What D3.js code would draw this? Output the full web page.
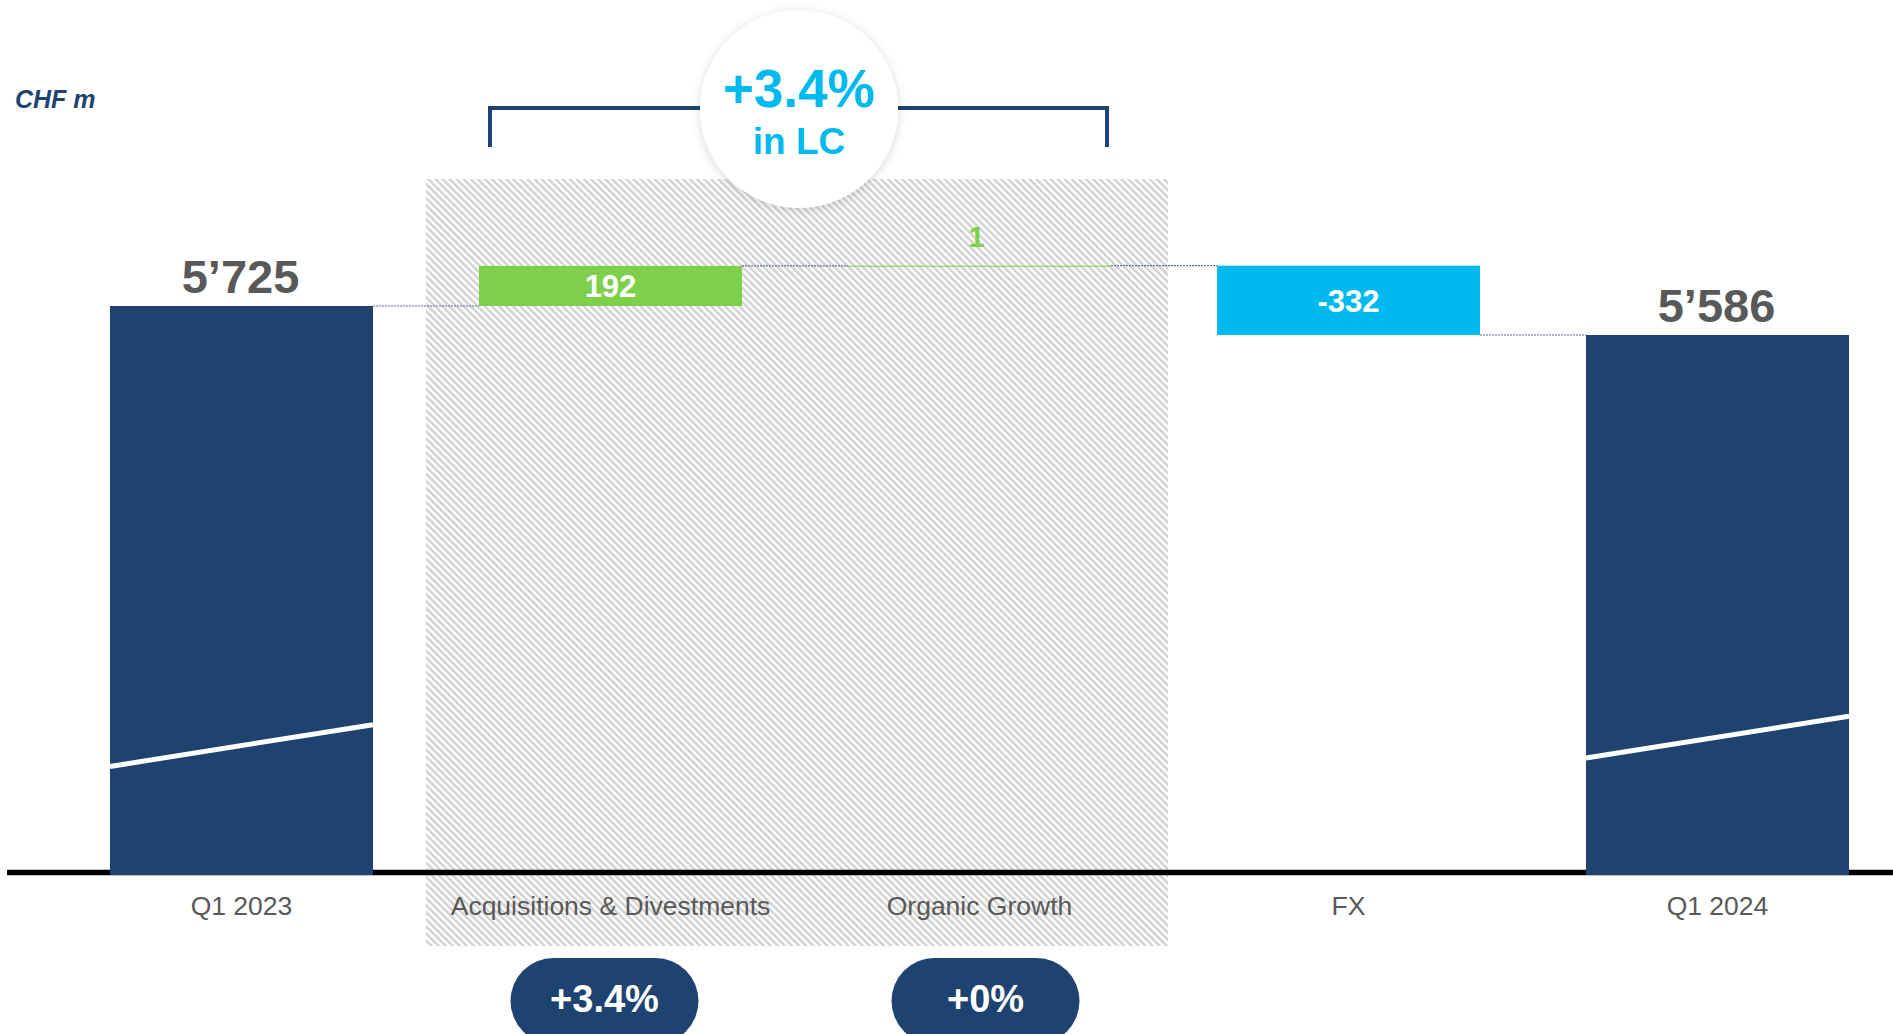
<!DOCTYPE html>
<html>
<head>
<meta charset="utf-8">
<script src="https://cdn.jsdelivr.net/npm/d3@7"></script>
<style>
  html, body { margin: 0; padding: 0; background: #ffffff; }
  svg { display: block; }
  text { font-family: "Liberation Sans", Arial, Helvetica, sans-serif; }
</style>
</head>
<body>
<svg id="chart" width="1893" height="1034"></svg>
<script>
// ---------- data ----------
const categories = ["Q1 2023", "Acquisitions & Divestments", "Organic Growth", "FX", "Q1 2024"];
const values     = [5725, 192, 1, -332, 5586];
const kinds      = ["total", "delta", "delta", "delta", "total"];
const valueLabels = ["5\u2019725", "192", "1", "-332", "5\u2019586"];
const breakFrom  = [3520, null, null, null, 3560];   // axis-break mark (left edge value)
const breakTo    = [3720, null, null, null, 3760];   // axis-break mark (right edge value)
const pillCategories = ["Acquisitions & Divestments", "Organic Growth"];
const pillLabels     = ["+3.4%", "+0%"];
const bubbleLines    = ["+3.4%", "in LC"];
const unitLabel      = "CHF m";
const yDomain        = [3000, 6000];

// ---------- layout ----------
const W = 1893, H = 1034;
const baseY = 875;
const C = {
  navy: "#1f4371", green: "#7ed04b", cyan: "#00b9ef", gray: "#595959", hatch: "#d2d2d2"
};

const svg = d3.select("#chart");
const defs = svg.append("defs");

const pat = defs.append("pattern")
  .attr("id", "hatch").attr("patternUnits", "userSpaceOnUse")
  .attr("width", 5).attr("height", 5)
  .attr("patternTransform", "rotate(-45)");
pat.append("rect").attr("width", 5).attr("height", 5).attr("fill", "#ffffff");
pat.append("rect").attr("width", 2.5).attr("height", 5).attr("fill", C.hatch);

const flt = defs.append("filter").attr("id", "shadow")
  .attr("x", "-30%").attr("y", "-30%").attr("width", "160%").attr("height", "160%");
flt.append("feDropShadow").attr("dx", 0).attr("dy", 2).attr("stdDeviation", 5)
  .attr("flood-color", "#000").attr("flood-opacity", 0.16);

const x = d3.scaleBand().domain(categories).range([57, 1902]).paddingInner(0.2873).paddingOuter(0.14365);
const bw = x.bandwidth();
const y = d3.scaleLinear().domain(yDomain).range([baseY, baseY - (yDomain[1] - yDomain[0]) * 0.20881]);

// compute waterfall
let run = 0;
const bars = categories.map((c, i) => {
  let lo, hi, end;
  if (kinds[i] === "total") { lo = yDomain[0]; hi = values[i]; end = values[i]; run = values[i]; }
  else { const s = run; const e = run + values[i]; lo = Math.min(s, e); hi = Math.max(s, e); end = e; run = e; }
  return { c, i, v: values[i], kind: kinds[i], lo, hi, end, label: valueLabels[i] };
});

// hatched highlight region behind A&D + Organic Growth
const half = (x.step() - bw) / 2;
const hx0 = x(pillCategories[0]) - half, hx1 = x(pillCategories[1]) + bw + half + 4;
svg.append("rect").attr("x", hx0).attr("y", 179).attr("width", hx1 - hx0).attr("height", 946 - 179)
  .attr("fill", "url(#hatch)");

// baseline
svg.append("line").attr("x1", 7).attr("x2", W).attr("y1", baseY - 2.5).attr("y2", baseY - 2.5)
  .attr("stroke", "#000").attr("stroke-width", 5.5);

// connectors
for (let i = 0; i < bars.length - 1; i++) {
  const b = bars[i], n = bars[i + 1];
  svg.append("line")
    .attr("x1", x(b.c) + bw).attr("x2", x(n.c))
    .attr("y1", y(b.end)).attr("y2", y(b.end))
    .attr("stroke", "#5b6f8e").attr("stroke-width", 1.2).attr("stroke-dasharray", "2,1");
}

// bars
bars.forEach(b => {
  const fill = b.kind === "total" ? C.navy : (b.v >= 0 ? C.green : C.cyan);
  const top = y(b.hi), h = Math.max(1, y(b.lo) - y(b.hi));
  svg.append("rect").attr("x", x(b.c)).attr("y", top).attr("width", bw).attr("height", h).attr("fill", fill);
  if (b.kind === "total" && breakFrom[b.i] != null) {
    svg.append("line").attr("x1", x(b.c)).attr("x2", x(b.c) + bw)
      .attr("y1", y(breakFrom[b.i])).attr("y2", y(breakTo[b.i]))
      .attr("stroke", "#ffffff").attr("stroke-width", 5);
  }
});

// value labels
bars.forEach(b => {
  const cx = x(b.c) + bw / 2;
  if (b.kind === "total") {
    svg.append("text").attr("x", cx - 1).attr("y", y(b.hi) - 13).attr("text-anchor", "middle")
      .attr("font-size", 47).attr("font-weight", "bold").attr("fill", C.gray).text(b.label);
  } else {
    const h = y(b.lo) - y(b.hi);
    if (h > 30) {
      svg.append("text").attr("x", cx).attr("y", (y(b.lo) + y(b.hi)) / 2 + 11.5).attr("text-anchor", "middle")
        .attr("font-size", 31).attr("font-weight", "bold").attr("fill", "#ffffff").text(b.label);
    } else {
      svg.append("text").attr("x", cx - 3).attr("y", y(b.hi) - 19).attr("text-anchor", "middle")
        .attr("font-size", 29).attr("font-weight", "bold").attr("fill", C.green).text(b.label);
    }
  }
});

// category axis labels
svg.append("g").selectAll("text").data(categories).join("text")
  .attr("x", d => x(d) + bw / 2).attr("y", 915).attr("text-anchor", "middle")
  .attr("font-size", 26.5).attr("fill", C.gray).text(d => d);

// unit label
svg.append("text").attr("x", 15).attr("y", 108).attr("font-size", 25)
  .attr("font-weight", "bold").attr("font-style", "italic").attr("fill", C.navy).text(unitLabel);

// bracket
const bxl = x(pillCategories[0]) + 11, bxr = x(pillCategories[1]) + bw - 4;
svg.append("path")
  .attr("d", `M${bxl},147 V108 H${bxr} V147`)
  .attr("fill", "none").attr("stroke", C.navy).attr("stroke-width", 4);

// bubble
svg.append("circle").attr("cx", 799).attr("cy", 109).attr("r", 99)
  .attr("fill", "#ffffff").attr("filter", "url(#shadow)");
svg.append("text").attr("x", 799).attr("y", 107).attr("text-anchor", "middle")
  .attr("font-size", 53).attr("font-weight", "bold").attr("fill", C.cyan).text(bubbleLines[0]);
svg.append("text").attr("x", 799).attr("y", 154).attr("text-anchor", "middle")
  .attr("font-size", 37).attr("font-weight", "bold").attr("fill", C.cyan).text(bubbleLines[1]);

// pills
const pillOffset = [-6, 6];
pillCategories.forEach((c, i) => {
  const cx = x(c) + bw / 2 + pillOffset[i];
  svg.append("rect").attr("x", cx - 94).attr("y", 958).attr("width", 188).attr("height", 86)
    .attr("rx", 43).attr("fill", C.navy);
  svg.append("text").attr("x", cx).attr("y", 1011.5).attr("text-anchor", "middle")
    .attr("font-size", 38).attr("font-weight", "bold").attr("fill", "#ffffff").text(pillLabels[i]);
});
</script>
</body>
</html>
